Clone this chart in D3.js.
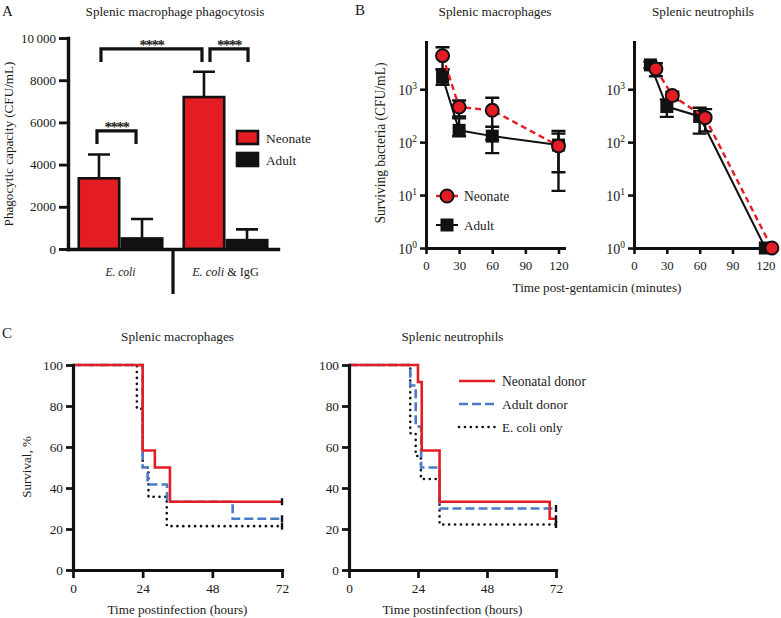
<!DOCTYPE html>
<html><head><meta charset="utf-8">
<script src="https://cdn.jsdelivr.net/npm/d3@7"></script>
<style>
body{margin:0;background:#fff;}
svg text{font-family:"Liberation Serif","Times New Roman",serif !important;fill:#1a1a1a;}
</style></head><body>
<svg id="c" width="781" height="618"></svg>
<script>
// ---------------- DATA ----------------
// Panel A: splenic macrophage phagocytosis
const aCategories = ["E. coli", "E. coli & IgG"];
const aGroups = ["Neonate", "Adult"];
const aNeonate = [3350, 7200];
const aNeonateUpper = [4480, 8400];
const aAdult = [500, 420];
const aAdultUpper = [1420, 930];
const aTicks = [0, 2000, 4000, 6000, 8000, 10000];
const aTickLabels = ["0", "2000", "4000", "6000", "8000", "10\u2009000"];
const aBracketFrom = [[0, "Neonate"], [0, "Neonate"], [1, "Neonate"]];
const aBracketTo = [[0, "Adult"], [1, "Neonate"], [1, "Adult"]];
const aBracketTop = [5600, 9480, 9480];
const aBracketLeg = [4980, 8860, 8860];
const aBracketLabel = ["****", "****", "****"];

// Panel B: surviving bacteria (CFU/mL), log scale
const bTicksX = [0, 30, 60, 90, 120];
const bTicksY = [1, 10, 100, 1000];
const bTickExp = ["0", "1", "2", "3"];
const macNeoT = [15, 30, 60, 120];
const macNeoV = [4300, 460, 400, 85];
const macNeoHi = [6200, 612, 690, 162];
const macNeoLo = [2400, 306, 110, 12];
const macAduT = [15, 30, 60, 120];
const macAduV = [1680, 167, 130, 88];
const macAduHi = [2320, 281, 195, 145];
const macAduLo = [1210, 129, 62, 27];
const neuNeoT = [20, 35, 65, 126];
const neuNeoV = [2420, 760, 290, 1];
const neuNeoHi = [3100, 900, 420, 1];
const neuNeoLo = [1760, 620, 160, 1];
const neuAduT = [15, 30, 60, 120];
const neuAduV = [2880, 470, 306, 1];
const neuAduHi = [3300, 640, 446, 1];
const neuAduLo = [2500, 300, 145, 1];

// Panel C: survival (%) step curves
const cTicksX = [0, 24, 48, 72];
const cTicksY = [0, 20, 40, 60, 80, 100];
const cSeries = ["Neonatal donor", "Adult donor", "E. coli only"];
const cMacNeoT = [0, 24, 28.2, 33.4, 72];
const cMacNeoS = [100, 58.3, 50, 33.3, 33.3];
const cMacAduT = [0, 24, 25.7, 32.4, 55, 72];
const cMacAduS = [100, 50, 41.7, 33.3, 25, 25];
const cMacEcoT = [0, 22, 24, 26, 32.3, 72];
const cMacEcoS = [100, 78.6, 50, 35.7, 21.4, 21.4];
const cNeuNeoT = [0, 24, 25.3, 31.5, 69.8, 72];
const cNeuNeoS = [100, 91.7, 58.3, 33.3, 25, 25];
const cNeuAduT = [0, 21.3, 23.2, 25.1, 31.5, 72];
const cNeuAduS = [100, 90, 70, 50, 30, 30];
const cNeuEcoT = [0, 21.3, 23.2, 25, 31.5, 72];
const cNeuEcoS = [100, 66.7, 55.6, 44.4, 22.2, 22.2];

// ---------------- STYLE ----------------
const RED = "#e41d24", BLUE = "#4a7cc6", INK = "#111";
const FONT = '"Liberation Serif","Times New Roman",serif';
const svg = d3.select("#c").style("font-family", FONT);

function fit(t, w) {
  const L = t.node().getComputedTextLength();
  if (L > 0) t.attr("font-size", (+t.attr("font-size")) * w / L);
  return t;
}
function fitGroup(sel, sampleText, w) {
  const probe = svg.append("text").attr("font-size", 13).style("font-family", FONT).text(sampleText);
  const L = probe.node().getComputedTextLength();
  probe.remove();
  sel.attr("font-size", 13 * w / L);
}
function styleAxis(g, w) {
  g.attr("font-family", null);
  g.select(".domain").attr("stroke", INK).attr("stroke-width", w).attr("stroke-linecap", "square");
  g.selectAll(".tick line").attr("stroke", INK).attr("stroke-width", w * 0.85);
  g.selectAll(".tick text").attr("fill", "#1a1a1a").style("font-family", FONT);
}
function txt(x, y, s, size, anchor, w) {
  const t = svg.append("text").attr("x", x).attr("y", y).attr("font-size", size)
    .attr("text-anchor", anchor || "start").style("font-family", FONT).text(s);
  if (w) fit(t, w);
  return t;
}
function vtxt(x, y, s, w) {
  const t = svg.append("text").attr("transform", `translate(${x},${y}) rotate(-90)`)
    .attr("text-anchor", "middle").attr("font-size", 13).style("font-family", FONT).text(s);
  fit(t, w);
  return t;
}

// ---------------- PANEL A ----------------
txt(2, 16, "A", 15);
txt(175, 16, "Splenic macrophage phagocytosis", 13.5, "middle", 179);

const yA = d3.scaleLinear().domain([0, 10000]).range([249, 38]);
const xA = d3.scaleBand().domain(aCategories).range([68, 278]).paddingInner(0.18).paddingOuter(0.09);
const xAg = d3.scaleBand().domain(aGroups).range([0, xA.bandwidth()]);
const cx = (ci, g) => xA(aCategories[ci]) + xAg(g) + xAg.bandwidth() / 2;

const barData = [];
aCategories.forEach((c, i) => {
  barData.push({c, g: "Neonate", v: aNeonate[i], hi: aNeonateUpper[i], fill: RED});
  barData.push({c, g: "Adult", v: aAdult[i], hi: aAdultUpper[i], fill: INK});
});
const gA = svg.append("g");
gA.selectAll(".eb").data(barData).join("path")
  .attr("d", d => {
    const x = xA(d.c) + xAg(d.g) + xAg.bandwidth() / 2;
    return `M${x},${yA(d.v)}V${yA(d.hi)}M${x - 11},${yA(d.hi)}H${x + 11}`;
  })
  .attr("stroke", INK).attr("stroke-width", 2.6).attr("fill", "none");
gA.selectAll(".bar").data(barData).join("rect")
  .attr("x", d => xA(d.c) + xAg(d.g) + 1.3)
  .attr("width", xAg.bandwidth() - 2.6)
  .attr("y", d => yA(d.v))
  .attr("height", d => yA(0) - yA(d.v))
  .attr("fill", d => d.fill).attr("stroke", INK).attr("stroke-width", 2.6);

const axAy = svg.append("g").attr("transform", "translate(68,0)")
  .call(d3.axisLeft(yA).tickValues(aTicks).tickFormat((d, i) => aTickLabels[i]).tickSize(9).tickPadding(3).tickSizeOuter(0));
styleAxis(axAy, 3.4);
fitGroup(axAy.selectAll(".tick text"), "8000", 26);
const axAx = svg.append("g").attr("transform", "translate(0,249)")
  .call(d3.axisBottom(xA).tickSize(0).tickFormat(() => ""));
styleAxis(axAx, 3.4);
const sepX = xA(aCategories[1]) - xA.step() * xA.paddingInner() / 2;
svg.append("line").attr("x1", sepX).attr("x2", sepX).attr("y1", 249).attr("y2", 294)
  .attr("stroke", INK).attr("stroke-width", 3.2);
const catW = [30, 66.7];
aCategories.forEach((c, i) => {
  const t = svg.append("text").attr("x", xA(c) + xA.bandwidth() / 2).attr("y", 276)
    .attr("text-anchor", "middle").attr("font-size", 13).style("font-family", FONT);
  const parts = c.split(" & ");
  t.append("tspan").attr("font-style", "italic").text(parts[0]);
  if (parts[1]) t.append("tspan").text(" & " + parts[1]);
  fit(t, catW[i]);
});
aBracketFrom.forEach((f, i) => {
  const t = aBracketTo[i];
  let x1 = cx(f[0], f[1]), x2 = cx(t[0], t[1]);
  if (i === 1) { x1 += 2; x2 -= 2; }
  if (i === 2) { x1 += 6; x2 += 1; }
  if (i === 0) { x1 -= 2; x2 -= 6; }
  const yt = yA(aBracketTop[i]), yl = yA(aBracketLeg[i]);
  svg.append("path").attr("d", `M${x1},${yl}V${yt}H${x2}V${yl}`)
    .attr("fill", "none").attr("stroke", INK).attr("stroke-width", 3.2);
  txt((x1 + x2) / 2, yt + 1, aBracketLabel[i], 15, "middle")
    .attr("font-weight", "bold").attr("letter-spacing", -1.5).attr("fill", "#111");
});
[["Neonate", RED, 45], ["Adult", INK, 30.3]].forEach((d, i) => {
  svg.append("rect").attr("x", 237).attr("y", 131 + i * 22).attr("width", 21).attr("height", 13)
    .attr("fill", d[1]).attr("stroke", INK).attr("stroke-width", 2.6);
  txt(266, 143 + i * 22, d[0], 13.5, "start", d[2]);
});
vtxt(13, 144, "Phagocytic capacity (CFU/mL)", 165);

// ---------------- PANEL B ----------------
txt(355, 15, "B", 15);
const yB = d3.scaleLog().domain([1, 7800]).range([248, 42]);

function panelB(x0, x1, maxT, title, titleW, titleX, neo, adu, legend) {
  const xB = d3.scaleLinear().domain([0, maxT]).range([x0, x1]);
  txt(titleX, 16, title, 13.5, "middle", titleW);
  const gy = svg.append("g").attr("transform", `translate(${x0},0)`)
    .call(d3.axisLeft(yB).tickValues(bTicksY).tickFormat(() => "").tickSize(6).tickSizeOuter(0));
  styleAxis(gy, 3);
  gy.selectAll(".tick").each(function(d, i) {
    const t = d3.select(this).append("text").attr("x", -9).attr("y", 5).attr("text-anchor", "end")
      .attr("font-size", 14).attr("fill", "#1a1a1a").style("font-family", FONT);
    t.append("tspan").text("10");
    t.append("tspan").attr("dy", -6).attr("font-size", 9.5).text(bTickExp[i]);
  });
  const gx = svg.append("g").attr("transform", "translate(0,248)")
    .call(d3.axisBottom(xB).tickValues(bTicksX).tickSize(6).tickPadding(7).tickSizeOuter(0));
  styleAxis(gx, 3);
  fitGroup(gx.selectAll(".tick text"), "120", 19.3);

  function series(s, isNeo) {
    const pts = s.t.map((t, i) => ({t, v: s.v[i], hi: s.hi[i], lo: s.lo[i]}));
    const g = svg.append("g");
    g.selectAll("path.eb").data(pts.filter(p => p.hi !== p.lo)).join("path")
      .attr("d", p => {
        const x = xB(p.t);
        return `M${x},${yB(p.lo)}V${yB(p.hi)}M${x - 7},${yB(p.hi)}H${x + 7}M${x - 7},${yB(p.lo)}H${x + 7}`;
      }).attr("stroke", INK).attr("stroke-width", 2.4).attr("fill", "none");
    g.append("path").datum(pts)
      .attr("d", d3.line().x(p => xB(p.t)).y(p => yB(p.v)))
      .attr("fill", "none").attr("stroke", isNeo ? RED : INK).attr("stroke-width", isNeo ? 2.4 : 2)
      .attr("stroke-dasharray", isNeo ? "6,4" : null);
    if (isNeo) {
      g.selectAll("circle").data(pts).join("circle")
        .attr("cx", p => xB(p.t)).attr("cy", p => yB(p.v)).attr("r", 6.5)
        .attr("fill", RED).attr("stroke", INK).attr("stroke-width", 2);
    } else {
      g.selectAll("rect").data(pts).join("rect")
        .attr("x", p => xB(p.t) - 6.5).attr("y", p => yB(p.v) - 6.5)
        .attr("width", 13).attr("height", 13).attr("fill", INK);
    }
  }
  series(adu, false);
  series(neo, true);

  if (legend) {
    svg.append("line").attr("x1", 436).attr("x2", 458).attr("y1", 196).attr("y2", 196)
      .attr("stroke", RED).attr("stroke-width", 2.4).attr("stroke-dasharray", "6,3");
    svg.append("circle").attr("cx", 447).attr("cy", 196).attr("r", 6.5)
      .attr("fill", RED).attr("stroke", INK).attr("stroke-width", 2);
    txt(464, 201, "Neonate", 13.5, "start", 45.3);
    svg.append("line").attr("x1", 436).attr("x2", 458).attr("y1", 225).attr("y2", 225)
      .attr("stroke", INK).attr("stroke-width", 2);
    svg.append("rect").attr("x", 440.5).attr("y", 218.5).attr("width", 13).attr("height", 13).attr("fill", INK);
    txt(464, 230, "Adult", 13.5, "start", 30);
  }
}
panelB(426, 564, 125, "Splenic macrophages", 113, 495,
  {t: macNeoT, v: macNeoV, hi: macNeoHi, lo: macNeoLo},
  {t: macAduT, v: macAduV, hi: macAduHi, lo: macAduLo}, true);
panelB(634, 773, 127, "Splenic neutrophils", 102, 703,
  {t: neuNeoT, v: neuNeoV, hi: neuNeoHi, lo: neuNeoLo},
  {t: neuAduT, v: neuAduV, hi: neuAduHi, lo: neuAduLo}, false);
txt(597, 292, "Time post-gentamicin (minutes)", 13, "middle", 169);
vtxt(385, 143, "Surviving bacteria (CFU/mL)", 161);

// ---------------- PANEL C ----------------
txt(2, 338, "C", 15);
const yC = d3.scaleLinear().domain([0, 100]).range([570, 365]);
const cStyles = [
  {color: RED, dash: null, w: 2.6, cap: "butt"},
  {color: BLUE, dash: "9,4", w: 2.6, cap: "butt"},
  {color: INK, dash: "0.1,5.8", w: 2.6, cap: "round"}
];
const cLegendW = [84, 65.7, 60.7];
function panelC(x0, x1, title, titleW, sets, legend) {
  const xC = d3.scaleLinear().domain([0, 72]).range([x0, x1]);
  txt((x0 + x1) / 2, 341, title, 13.5, "middle", titleW);
  const line = d3.line().x(p => xC(p[0])).y(p => yC(p[1])).curve(d3.curveStepAfter);
  [2, 1, 0].forEach(k => {
    const pts = sets[k][0].map((t, i) => [t, sets[k][1][i]]);
    const st = cStyles[k];
    svg.append("path").datum(pts).attr("d", line).attr("fill", "none")
      .attr("stroke", st.color).attr("stroke-width", st.w)
      .attr("stroke-dasharray", st.dash).attr("stroke-linecap", st.cap);
    const last = pts[pts.length - 1];
    svg.append("line").attr("x1", xC(last[0])).attr("x2", xC(last[0]))
      .attr("y1", yC(last[1]) - 3.5).attr("y2", yC(last[1]) + 3.5)
      .attr("stroke", INK).attr("stroke-width", 2.4);
  });
  const gy = svg.append("g").attr("transform", `translate(${x0},0)`)
    .call(d3.axisLeft(yC).tickValues(cTicksY).tickSize(7).tickPadding(3).tickSizeOuter(0));
  styleAxis(gy, 3.2);
  fitGroup(gy.selectAll(".tick text"), "100", 20);
  const gx = svg.append("g").attr("transform", "translate(0,570)")
    .call(d3.axisBottom(xC).tickValues(cTicksX).tickSize(8).tickPadding(6).tickSizeOuter(0));
  styleAxis(gx, 3.2);
  fitGroup(gx.selectAll(".tick text"), "100", 20);
  txt((x0 + x1) / 2, 614, "Time postinfection (hours)", 13, "middle", 140);
  if (legend) {
    cSeries.forEach((s, k) => {
      const st = cStyles[k];
      const y = 381 + k * 23;
      svg.append("line").attr("x1", 459).attr("x2", 495).attr("y1", y).attr("y2", y)
        .attr("stroke", st.color).attr("stroke-width", st.w)
        .attr("stroke-dasharray", st.dash).attr("stroke-linecap", st.cap);
      txt(502, y + 4.5, s, 13.5, "start", cLegendW[k]);
    });
  }
}
panelC(73, 282, "Splenic macrophages", 113,
  [[cMacNeoT, cMacNeoS], [cMacAduT, cMacAduS], [cMacEcoT, cMacEcoS]], false);
panelC(349, 556, "Splenic neutrophils", 102,
  [[cNeuNeoT, cNeuNeoS], [cNeuAduT, cNeuAduS], [cNeuEcoT, cNeuEcoS]], true);
vtxt(31, 467, "Survival, %", 61.6);
</script>
</body></html>
